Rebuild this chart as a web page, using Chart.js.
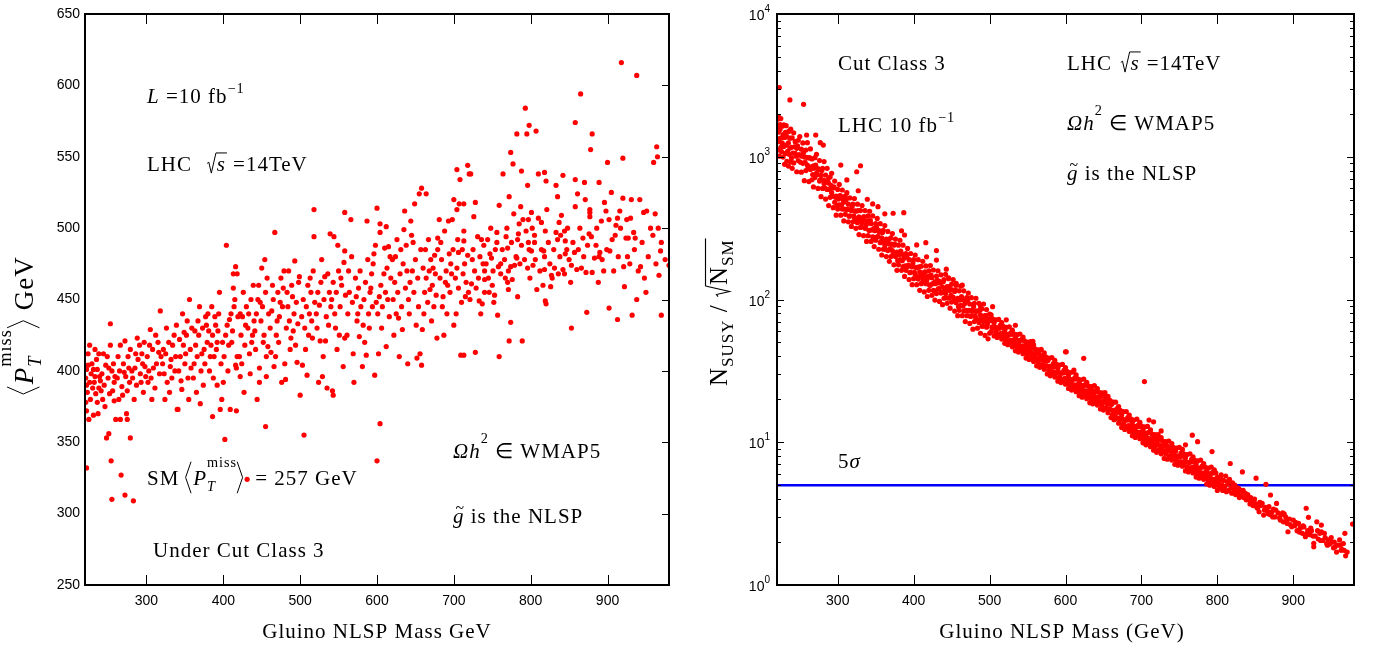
<!DOCTYPE html>
<html>
<head>
<meta charset="utf-8">
<script src="https://cdn.jsdelivr.net/npm/chart.js"></script>
<style>
  body { margin: 0; background: #fff; }
  #wrap { display: flex; width: 1374px; height: 645px; }
  canvas { display: block; }
</style>
</head>
<body>
<div id="wrap">
  <canvas id="metChart" width="687" height="645"></canvas>
  <canvas id="sigChart" width="687" height="645"></canvas>
</div>
<script>
// axes
const massRange = [220, 980];
const xTickValues = [300, 400, 500, 600, 700, 800, 900];
const leftYRange = [250, 650];
const leftYTicks = [250, 300, 350, 400, 450, 500, 550, 600, 650];
const rightYRange = [1, 10000];
const rightMajorTicks = [1, 10, 100, 1000, 10000];
const rightExponents = ['0', '1', '2', '3', '4'];
const fiveSigma = 5;

// left panel: [gluino mass, <PT miss>]
const leftPoints = [
  [222,332],[226,418],[233,415],[224,404],[222,401],[222,372],[225,366],[231,369],[237,370],[221,395],[228,398],[232,392],[236,401],[239,396],[223,385],[227,380],[230,388],[234,384],[238,388],[221,378],[226,392],[229,405],[235,408],[238,412],[224,412],[231,401],[236,378],[240,393],[222,390],[233,396],
  [248,353],[251,356],[254,337],[255,310],[253,433],[260,366],[242,398],[245,390],[247,404],[250,395],[252,384],[255,400],[258,392],[243,380],[246,375],[249,410],[253,418],[257,405],[259,396],[244,412],[251,402],[256,386],[241,386],[258,379],
  [267,327],[272,313],[279,353],[266,366],[274,370],[275,366],[262,395],[265,400],[268,389],[270,405],[273,396],[276,410],[278,392],[263,410],[266,418],[269,383],[271,399],[277,402],[279,415],[264,380],[272,421],[275,386],
  [283,309],[288,423],[282,395],[285,402],[287,390],[289,408],[292,398],[294,412],[296,385],[298,403],[291,418],[284,380],[286,412],[293,392],[297,420],[299,396],[281,400],[295,405],
  [305,429],[301,410],[303,400],[306,395],[308,415],[311,388],[313,405],[315,420],[317,398],[319,410],[302,392],[304,418],[309,402],[312,425],[316,413],[318,442],[307,380],
  [327,392],[321,405],[323,398],[325,412],[329,420],[331,403],[333,395],[336,425],[338,410],[322,415],[326,430],[330,385],[334,418],[337,400],[339,432],[340,373],[324,380],[332,408],
  [346,387],[355,380],[342,400],[344,410],[348,418],[350,405],[352,425],[354,395],[357,415],[359,430],[343,422],[347,440],[351,412],[353,435],[356,450],[358,402],[345,393],[349,427],[341,373],
  [370,377],[362,405],[364,418],[366,410],[368,425],[371,400],[373,430],[375,415],[377,438],[379,420],[361,395],[363,428],[367,435],[369,445],[372,412],[374,390],[376,405],[378,432],[365,385],[380,440],
  [396,373],[398,380],[382,400],[384,418],[386,425],[388,410],[390,432],[392,420],[394,440],[381,428],[383,410],[385,445],[387,395],[389,438],[391,415],[393,428],[395,455],[397,405],[399,420],[386,368],[392,390],
  [404,488],[416,473],[418,468],[413,468],[402,352],[409,373],[416,404],[418,410],[417,402],[422,396],[401,410],[403,425],[405,432],[407,418],[410,440],[412,428],[414,445],[406,400],[408,436],[411,420],[415,450],[419,438],[417,372],[413,458],[400,392],
  [427,385],[431,324],[421,410],[423,425],[425,438],[428,418],[430,445],[432,430],[434,412],[436,450],[438,425],[422,440],[424,405],[426,455],[429,432],[433,440],[435,398],[437,420],[439,460],[440,435],
  [455,361],[447,402],[447,392],[456,396],[456,410],[458,417],[441,428],[443,440],[445,450],[449,435],[451,445],[453,425],[455,455],[457,465],[459,440],[442,415],[446,460],[450,472],[452,420],[454,478],[448,448],[444,380],
  [466,403],[468,410],[462,413],[480,405],[467,497],[461,430],[463,442],[465,450],[469,425],[471,455],[473,438],[475,465],[477,445],[479,470],[464,460],[470,435],[472,420],[474,448],[476,392],[478,458],
  [481,394],[488,423],[494,418],[496,406],[482,430],[484,445],[486,435],[490,452],[492,440],[498,462],[483,455],[485,470],[487,415],[489,460],[491,428],[493,477],[495,448],[497,433],[499,466],[500,383],
  [503,404],[505,355],[509,397],[516,423],[502,438],[504,450],[506,430],[508,445],[510,460],[512,440],[514,455],[518,494],[518,513],[517,470],[511,425],[513,465],[519,448],[507,415],[515,435],
  [524,392],[526,421],[529,396],[533,421],[535,388],[539,496],[521,440],[523,455],[525,446],[527,462],[531,450],[534,438],[536,468],[538,455],[540,445],[522,430],[528,478],[530,410],[532,466],[537,432],
  [542,386],[543,383],[544,494],[549,488],[551,425],[556,403],[558,423],[558,511],[558,484],[541,450],[543,462],[545,440],[547,455],[550,470],[552,445],[554,460],[557,476],[559,453],[546,430],[548,415],[553,465],
  [570,392],[566,506],[577,424],[562,440],[564,455],[568,448],[572,465],[574,435],[576,458],[578,470],[561,425],[563,470],[567,480],[569,412],[573,452],[575,440],[579,445],
  [581,403],[586,411],[587,505],[582,432],[597,397],[598,488],[600,514],[583,450],[585,462],[589,440],[591,455],[593,468],[595,475],[599,448],[584,420],[588,478],[590,430],[592,458],[594,445],[596,482],
  [600,337],[604,363],[602,412],[612,417],[604,503],[612,501],[604,497],[610,486],[615,487],[601,440],[603,452],[605,460],[607,445],[609,468],[611,455],[613,472],[616,438],[618,465],[620,478],[606,430],[614,450],[617,480],
  [622,425],[629,410],[633,429],[626,492],[635,499],[636,512],[638,488],[621,450],[623,462],[625,440],[627,455],[630,468],[632,445],[634,475],[637,458],[639,470],[624,480],[628,437],[631,485],[640,405],
  [651,432],[652,409],[658,404],[656,412],[659,429],[645,495],[649,517],[655,524],[658,528],[641,450],[643,462],[646,470],[648,455],[650,478],[653,465],[654,445],[657,485],[660,472],[642,440],[647,490],[644,505],
  [664,524],[678,423],[679,485],[679,493],[675,481],[662,455],[664,465],[666,448],[668,470],[670,478],[672,460],[674,445],[676,468],[661,440],[663,485],[667,492],[669,457],[671,435],[673,472],[677,453],
  [681,506],[687,425],[688,498],[693,505],[698,506],[700,432],[700,520],[682,465],[684,478],[686,452],[690,470],[692,460],[694,482],[696,475],[683,490],[685,445],[689,462],[691,440],[695,455],[697,468],[699,485],
  [704,541],[718,544],[720,538],[708,534],[704,513],[707,517],[713,517],[713,498],[713,491],[705,492],[706,483],[718,481],[709,411],[713,411],[702,465],[704,472],[706,458],[710,448],[712,468],[714,475],[716,462],[719,455],[703,440],[711,485],[715,452],
  [722,538],[728,518],[726,508],[731,494],[736,492],[739,488],[723,461],[733,449],[737,447],[740,455],[740,464],[740,470],[728,413],[724,478],[727,470],[732,465],[734,480],[738,475],[721,450],[725,485],[729,458],[735,440],
  [744,492],[749,479],[756,497],[756,490],[759,516],[750,460],[753,453],[752,448],[757,439],[761,468],[759,410],[742,475],[745,465],[747,482],[751,470],[754,485],[758,473],[746,455],[748,500],
  [764,538],[772,522],[774,553],[777,545],[778,510],[768,494],[770,486],[774,473],[779,474],[776,464],[770,462],[771,457],[774,434],[772,421],[782,479],[761,475],[763,485],[766,478],[769,500],[771,470],[775,490],[767,465],
  [782,566],[793,584],[798,572],[795,566],[788,540],[796,530],[785,503],[790,506],[797,506],[783,492],[784,496],[788,488],[783,452],[789,421],[796,472],[798,485],[797,490],[781,480],[786,475],[792,478],[794,498],[799,465],[787,515],
  [807,568],[810,538],[818,539],[820,533],[801,511],[810,507],[814,504],[805,490],[805,495],[801,484],[814,485],[817,484],[803,474],[808,457],[819,449],[820,447],[818,471],[818,480],[819,498],[812,470],[816,460],[802,500],[806,478],
  [821,513],[833,530],[835,522],[842,537],[840,509],[837,504],[833,497],[835,492],[827,467],[828,465],[826,459],[825,475],[830,485],[838,480],[823,490],[831,472],[836,468],[839,495],
  [844,498],[845,491],[845,482],[842,471],[844,468],[853,474],[853,430],[858,574],[858,515],[858,534],[857,483],[850,478],[855,490],[848,500],[852,462],[847,485],
  [865,594],[861,524],[871,520],[877,513],[877,511],[877,508],[876,496],[879,494],[868,493],[864,500],[860,471],[866,472],[872,469],[880,469],[873,441],[880,566],[878,555],[870,532],[862,485],[869,480],[874,488],
  [889,532],[900,546],[885,488],[890,483],[883,479],[889,480],[893,478],[899,485],[902,506],[898,512],[896,518],[886,500],[892,505],[895,470],[888,462],
  [905,525],[903,484],[906,492],[902,444],[913,436],[911,502],[913,507],[917,500],[910,495],[918,616],[920,549],[920,521],[921,473],[922,459],[914,480],[908,470],[916,512],
  [925,506],[930,507],[924,493],[927,493],[936,493],[934,497],[929,475],[932,439],[938,450],[938,607],[926,480],[931,520],[935,485],[940,470],
  [947,511],[951,512],[948,465],[943,473],[959,495],[960,546],[945,490],[953,480],[956,500],[950,455],[942,520],
  [964,557],[970,490],[969,484],[963,475],[967,467],[970,439],[980,474],[962,510],[966,500],[975,478],[965,550]
];

// right panel: [gluino mass, N_SUSY / sqrt(N_SM)]
const rightPoints = [
  // 220-300
  [221,1830],[221,1115],[222,1485],[222,1275],[223,1650],[223,1010],[224,1345],[224,1550],[225,1165],[225,1850],[226,1085],[226,1355],[227,1245],[227,1635],[228,995],[228,1430],[229,1675],[229,1180],[230,885],[230,1365],
  [231,1480],[231,1055],[232,1205],[232,1650],[233,930],[233,1380],[234,1090],[234,1490],[235,1250],[235,860],[236,1510],[236,1040],[237,1150],[237,1350],[238,920],[238,1560],[239,1165],[239,980],[240,1355],[240,830],[241,1060],
  [222,1900],[224,1680],[223,3050],[237,2500],[255,2330],[259,1420],[271,1420],[277,1255],[281,1208],
  [242,1470],[242,905],[243,1175],[244,1055],[244,1275],[245,1010],[246,785],[246,1145],[247,1190],[248,1305],[248,940],[249,1030],[250,1030],[250,1385],
  [251,915],[252,780],[252,1130],[253,1010],[254,1250],[254,900],[255,1065],[256,995],[256,680],[257,915],[258,1115],[258,800],[259,990],[260,875],[260,1255],
  [261,845],[262,670],[262,980],[263,985],[264,1135],[264,815],[265,850],[266,690],[266,965],[267,750],[268,865],[268,615],[269,830],[270,985],[270,715],
  [271,875],[272,765],[272,1040],[273,750],[274,600],[274,825],[275,810],[276,940],[276,675],[277,690],[278,740],[278,525],[279,800],[280,830],[280,600],
  [281,685],[282,650],[282,925],[283,605],[284,505],[284,745],[285,665],[286,830],[286,590],[287,695],[288,655],[288,455],[289,590],[290,720],[290,520],
  [291,630],[292,560],[292,765],[293,530],[294,440],[294,605],[295,615],[296,675],[296,480],[297,520],[298,530],[298,390],[299,457],[300,590],[300,430],
  // 300-400
  [301,505],[302,460],[302,640],[303,535],[304,390],[304,530],[305,460],[306,585],[306,430],[307,500],[308,480],[308,355],[309,430],[310,530],[310,395],
  [311,500],[312,425],[312,560],[313,430],[314,350],[314,465],[315,383],[316,515],[316,385],[317,425],[318,420],[318,325],[319,448],[320,465],[320,350],
  [321,385],[322,375],[322,510],[323,418],[324,315],[324,415],[325,360],[326,465],[326,345],[327,420],[328,380],[328,285],[329,363],[330,420],[330,320],
  [331,322],[332,345],[332,455],[333,360],[334,280],[334,380],[335,380],[336,420],[336,315],[337,328],[338,340],[338,255],[339,355],[340,385],[340,280],
  [341,305],[342,305],[342,415],[343,357],[344,255],[344,340],[345,307],[346,385],[346,275],[347,273],[348,315],[348,235],[349,303],[350,340],[350,260],
  [351,320],[352,275],[352,370],[353,276],[354,225],[354,305],[355,296],[356,340],[356,250],[357,253],[358,270],[358,205],[359,295],[360,305],[360,225],
  [361,254],[362,240],[362,330],[363,225],[364,200],[364,265],[365,250],[366,300],[366,220],[367,264],[368,245],[368,185],[369,226],[370,270],[370,200],
  [371,244],[372,220],[372,290],[373,209],[374,175],[374,240],[375,244],[376,265],[376,200],[377,210],[378,215],[378,160],[379,187],[380,240],[380,175],
  [381,207],[382,190],[382,260],[383,218],[384,160],[384,210],[385,187],[386,240],[386,170],[387,202],[388,195],[388,145],[389,172],[390,210],[390,160],
  [391,201],[392,170],[392,228],[393,174],[394,138],[394,190],[395,154],[396,210],[396,155],[397,171],[398,169],[398,127],[399,180],[400,190],[400,140],
  [304,875],[312,688],[325,785],[327,578],[330,865],[339,504],[346,467],[353,447],[362,398],[373,402],[384,303],[387,406],[388,283],
  // 400-500
  [401,155],[402,150],[402,205],[403,168],[404,127],[404,167],[405,144],[406,190],[406,139],[407,169],[408,156],[408,116],[409,146],[410,171],[410,129],
  [411,131],[412,140],[412,185],[413,146],[414,113],[414,155],[415,156],[416,172],[416,129],[417,134],[418,140],[418,105],[419,146],[420,159],[420,116],
  [421,126],[422,126],[422,173],[423,148],[424,107],[424,142],[425,129],[426,161],[426,116],[427,115],[428,133],[428,99],[429,129],[430,146],[430,110],
  [431,137],[432,118],[432,159],[433,119],[434,97],[434,134],[435,130],[436,149],[436,111],[437,112],[438,122],[438,92],[439,133],[440,138],[440,102],
  [441,115],[442,110],[442,150],[443,103],[444,94],[444,123],[445,116],[446,140],[446,102],[447,123],[448,116],[448,87],[449,107],[450,128],[450,96],
  [451,117],[452,104],[452,138],[453,99],[454,83],[454,114],[455,117],[456,126],[456,95],[457,100],[458,102],[458,77],[459,89],[460,115],[460,84],
  [461,99],[462,91],[462,124],[463,105],[464,77],[464,102],[465,90],[466,115],[466,83],[467,98],[468,94],[468,70],[469,84],[470,103],[470,77],
  [471,98],[472,83],[472,111],[473,84],[474,68],[474,93],[475,76],[476,103],[476,77],[477,84],[478,83],[478,62],[479,89],[480,94],[480,70],
  [481,77],[482,74],[482,102],[483,83],[484,63],[484,83],[485,72],[486,94],[486,69],[487,84],[488,78],[488,58],[489,73],[490,86],[490,65],
  [491,65],[492,70],[492,93],[493,73],[494,56],[494,77],[495,77],[496,85],[496,64],[497,67],[498,70],[498,53],[499,73],[500,79],[500,58],
  [404,241],[416,250],[417,199],[430,220],[430,189],[443,163],[446,142],[456,130],[464,126],[488,90],
  // 500-600
  [501,71],[502,78],[502,59.7],[503,64],[504,63.3],[504,73.3],[505,71],[506,55.6],[506,68.7],[507,64],[508,71.9],[508,59.1],[509,58.5],[510,63],[510,54.2],
  [511,63],[512,72.5],[512,55.8],[513,63],[514,56.7],[514,65.9],[515,58],[516,69],[516,52.8],[517,64],[518,56],[518,64.9],[519,58],[520,49.3],[520,60.9],
  [521,53],[522,63.8],[522,52.4],[523,57],[524,56],[524,48.2],[525,57],[526,64.4],[526,49.5],[527,52],[528,50.2],[528,58.3],[529,57],[530,61],[530,46.6],
  [531,52],[532,49.6],[532,57.4],[533,47.7],[534,43.7],[534,54],[535,51.5],[536,56.7],[536,46.6],[537,51.7],[538,49.8],[538,42.8],[539,47.4],[540,57.3],[540,44.1],
  [541,52],[542,44.8],[542,52.1],[543,47.3],[544,54.5],[544,41.7],[545,43.2],[546,44.3],[546,51.3],[547,46.7],[548,38.9],[548,48.1],[549,46.8],[550,50.4],[550,41.4],
  [551,42.8],[552,44.2],[552,38],[553,46.9],[554,50.8],[554,39.1],[555,42.6],[556,39.6],[556,46],[557,38.8],[558,48.1],[558,36.8],[559,41.8],[560,39],[560,45.1],
  [561,41.8],[562,34.3],[562,42.3],[563,38.4],[564,44.4],[564,36.4],[565,41.9],[566,38.9],[566,33.5],[567,38.1],[568,44.7],[568,34.4],[569,34.8],[570,34.9],[570,40.5],
  [571,37.5],[572,42.3],[572,32.4],[573,37.5],[574,34.3],[574,39.7],[575,34.3],[576,30.1],[576,37.2],[577,37.5],[578,38.9],[578,31.9],[579,34],[580,34],[580,29.2],
  [581,31],[582,39.2],[582,30.2],[583,33.5],[584,30.7],[584,35.6],[585,33.7],[586,37.4],[586,28.6],[587,30.9],[588,30.4],[588,35.2],[589,33.9],[590,26.8],[590,33.1],
  [591,30.9],[592,34.7],[592,28.5],[593,28.2],[594,30.5],[594,26.2],[595,30.5],[596,35.1],[596,27],[597,30.6],[598,27.4],[598,31.9],[599,28],[600,33.4],[600,25.5],
  [504,89],[522,72],[534,66],[557,51],[600,43],[601,43],
  // 600-700
  [601,30.7],[602,27.1],[602,31.4],[603,27.9],[604,23.8],[604,29.4],[605,25.5],[606,30.8],[606,25.3],[607,27.5],[608,27],[608,23.2],[609,27.5],[610,31],[610,23.9],
  [611,25.2],[612,24.3],[612,28.2],[613,27.7],[614,29.6],[614,22.6],[615,25.2],[616,24],[616,27.8],[617,23.1],[618,21.2],[618,26.1],[619,24.9],[620,27.4],[620,22.5],
  [621,25],[622,24.1],[622,20.7],[623,22.9],[624,27.7],[624,21.3],[625,25.1],[626,21.7],[626,25.2],[627,22.9],[628,26.3],[628,20.2],[629,20.9],[630,21.4],[630,24.8],
  [631,22.6],[632,18.9],[632,23.3],[633,22.7],[634,24.5],[634,20.1],[635,20.8],[636,21.6],[636,18.6],[637,22.9],[638,24.9],[638,19.2],[639,20.9],[640,19.5],[640,22.7],
  [641,19.1],[642,23.8],[642,18.2],[643,20.7],[644,19.4],[644,22.4],[645,20.8],[646,17.1],[646,21.1],[647,19.1],[648,22.2],[648,18.2],[649,21],[650,19.5],[650,16.8],
  [651,19.1],[652,22.3],[652,17.2],[653,17.4],[654,17.4],[654,20.2],[655,18.7],[656,21],[656,16.1],[657,18.6],[658,17],[658,19.7],[659,17],[660,14.9],[660,18.4],
  [661,18.5],[662,19.2],[662,15.7],[663,16.7],[664,16.7],[664,14.4],[665,15.2],[666,19.1],[666,14.7],[667,16.3],[668,14.8],[668,17.2],[669,16.2],[670,17.8],[670,13.6],
  [671,14.7],[672,14.4],[672,16.7],[673,16.1],[674,12.7],[674,15.6],[675,14.6],[676,16.4],[676,13.4],[677,13.3],[678,14.3],[678,12.3],[679,14.3],[680,16.4],[680,12.6],
  [681,14.3],[682,12.8],[682,14.9],[683,13.1],[684,15.5],[684,11.9],[685,14.3],[686,12.6],[686,14.6],[687,13],[688,11.1],[688,13.7],[689,11.9],[690,14.3],[690,11.8],
  [691,12.8],[692,12.6],[692,10.8],[693,12.9],[694,14.5],[694,11.2],[695,11.8],[696,11.3],[696,13.2],[697,12.9],[698,13.8],[698,10.6],[699,11.8],[700,11.2],[700,13],
  [611,32],[624,38.7],[651,21.8],
  // 700-800
  [701,10.8],[702,9.9],[702,12.2],[703,11.6],[704,12.8],[704,10.5],[705,11.6],[706,11.2],[706,9.6],[707,10.7],[708,12.9],[708,9.9],[709,11.7],[710,10],[710,11.7],
  [711,10.6],[712,12.2],[712,9.3],[713,9.7],[714,9.9],[714,11.4],[715,10.5],[716,8.8],[716,10.8],[717,10.5],[718,11.3],[718,9.3],[719,9.6],[720,9.9],[720,8.5],
  [721,10.5],[722,11.3],[722,8.7],[723,9.6],[724,8.9],[724,10.4],[725,8.7],[726,10.8],[726,8.3],[727,9.4],[728,8.8],[728,10.2],[729,9.5],[730,7.7],[730,9.6],
  [731,8.7],[732,10.1],[732,8.3],[733,9.5],[734,8.8],[734,7.6],[735,8.7],[736,10.2],[736,7.8],[737,8],[738,8],[738,9.3],[739,8.6],[740,9.8],[740,7.5],
  [741,8.7],[742,8],[742,9.2],[743,8],[744,7],[744,8.6],[745,8.7],[746,9.1],[746,7.5],[747,8],[748,8],[748,6.9],[749,7.3],[750,9.2],[750,7.1],
  [751,7.9],[752,7.3],[752,8.4],[753,8],[754,8.9],[754,6.8],[755,7.3],[756,7.1],[756,8.3],[757,8],[758,6.3],[758,7.8],[759,7.3],[760,8.2],[760,6.7],
  [761,6.7],[762,7.2],[762,6.2],[763,7.2],[764,8.3],[764,6.4],[765,7.3],[766,6.5],[766,7.6],[767,6.7],[768,7.9],[768,6.1],[769,7.3],[770,6.5],[770,7.5],
  [771,6.7],[772,5.7],[772,7],[773,6.1],[774,7.4],[774,6.1],[775,6.6],[776,6.5],[776,5.6],[777,6.6],[778,7.5],[778,5.8],[779,6.1],[780,5.9],[780,6.8],
  [781,6.7],[782,7.1],[782,5.5],[783,6.1],[784,5.8],[784,6.7],[785,5.6],[786,5.1],[786,6.3],[787,6],[788,6.6],[788,5.4],[789,6],[790,5.85],[790,5],
  [791,5.6],[792,6.7],[792,5.2],[793,6.1],[794,5.3],[794,6.1],[795,5.5],[796,6.4],[796,4.9],[797,5.1],[798,5.2],[798,6.1],[799,5.5],[800,4.6],[800,5.7],
  [704,26.6],[710,14.3],[716,13.9],[726,12],[758,9.6],[767,11.2],[774,10.1],[793,8.6],
  // 800-980
  [802,5.3],[803,4.8],[804,5.6],[806,5],[807,4.6],[808,5.4],[810,4.9],[811,5.8],[812,4.5],[814,5.1],[815,4.6],[816,5.5],[817,7.1],[818,4.8],[819,4.4],[820,5.2],[822,4.6],[823,5],[824,4.3],[826,4.8],[827,4.4],[828,4.76],[830,4.63],[831,4.2],[833,6.2],[833,4.5],[835,4.1],[837,4.39],[838,3.95],[840,4.3],
  [842,3.94],[844,4.1],[846,3.83],[847,3.6],[849,4],[851,5.6],[851,3.7],[853,3.45],[855,3.26],[856,3.8],[859,3.73],[861,3.09],[863,3.5],[864,5.07],[866,3.3],[868,3.54],[870,4.27],[870,3.1],[872,3.26],[874,3.4],[876,3],[878,3.73],[880,3.2],
  [882,2.95],[884,3.1],[887,2.77],[888,3.15],[890,3],[892,2.7],[893,2.36],[895,2.9],[898,2.56],[900,2.85],[902,2.6],[905,2.4],[907,2.7],[909,2.5],[912,2.3],[914,2.55],[916,2.18],[917,3.45],[919,2.4],[920,2.98],
  [922,2.25],[924,2.4],[927,1.96],[927,1.85],[929,2.2],[931,2.77],[933,2.1],[935,2.3],[937,2.63],[937,2.36],[939,2.05],[942,2.15],[944,1.95],[946,2.07],[948,1.94],[951,2],[953,1.82],[955,1.85],[958,1.9],[961,2.07],[963,1.75],[964,1.78],[966,1.95],[968,2.3],[969,1.6],[971,1.7],[978,2.67],
  [801,5],[805,5.9],[809,4.7],[813,5.3],[821,4.9],[825,4.5],[829,4.1],[834,4.6],[839,4.2],[843,3.7],[848,3.9],[852,3.5],[857,3.6],[862,3.35],[867,3.15],[873,3],[877,3.35],[883,2.85],[886,3.2],[891,2.8],[896,2.65],[903,2.75],[908,2.35],[913,2.6],[918,2.3],[923,2.5],[926,2.2],[932,2.4],[936,2.05],[941,2.3],[945,1.9],[950,2.15],[954,2],[957,1.7],[962,1.9],[967,1.75]
];

const SERIF = '"Liberation Serif", "Times New Roman", serif';
const SANS = '"Liberation Sans", Arial, sans-serif';

// draws a run of text pieces (italic, sub/sup, radicals, big angle brackets)
function rich(ctx, x, y, segs, size, rot) {
  ctx.save();
  ctx.translate(x, y);
  if (rot) ctx.rotate(rot);
  ctx.fillStyle = '#000';
  ctx.strokeStyle = '#000';
  ctx.textAlign = 'left';
  ctx.textBaseline = 'alphabetic';
  if ('letterSpacing' in ctx) ctx.letterSpacing = '1px';
  let cx = 0, radStart = 0;
  for (const s of segs) {
    if (s.gap) { cx += s.gap * size; continue; }
    if (s.rad === 'open') {
      ctx.lineWidth = Math.max(1, size / 22);
      ctx.beginPath();
      ctx.moveTo(cx + 0.02 * size, -0.36 * size);
      ctx.lineTo(cx + 0.1 * size, -0.42 * size);
      ctx.lineTo(cx + 0.22 * size, 0.1 * size);
      ctx.lineTo(cx + 0.44 * size, -0.86 * size);
      ctx.stroke();
      radStart = cx + 0.44 * size;
      cx += 0.48 * size;
      continue;
    }
    if (s.rad === 'close') {
      ctx.beginPath();
      ctx.moveTo(radStart, -0.86 * size);
      ctx.lineTo(cx + 1, -0.86 * size);
      ctx.stroke();
      cx += 0.04 * size;
      continue;
    }
    if (s.br) {
      const h = s.br.h * size, w = 0.26 * size, top = -0.5 * size - h / 2 + 0.14 * size;
      ctx.lineWidth = 1;
      ctx.beginPath();
      if (s.br.open) {
        ctx.moveTo(cx + w, top); ctx.lineTo(cx, top + h / 2); ctx.lineTo(cx + w, top + h);
      } else {
        ctx.moveTo(cx, top); ctx.lineTo(cx + w, top + h / 2); ctx.lineTo(cx, top + h);
      }
      ctx.stroke();
      cx += w + 0.1 * size;
      continue;
    }
    const small = s.sup || s.sub;
    const fs = small ? size * 0.68 : size;
    ctx.font = (s.it ? 'italic ' : '') + fs + 'px ' + SERIF;
    let dy = 0;
    if (s.sup) dy = (s.dy !== undefined ? s.dy : -0.45) * size;
    if (s.sub) dy = (s.dy !== undefined ? s.dy : 0.28) * size;
    const dx = (s.dx || 0) * size;
    ctx.fillText(s.t, cx + dx, dy);
    const w = ctx.measureText(s.t).width;
    if (s.tilde) {
      ctx.font = (0.75 * size) + 'px ' + SERIF;
      ctx.fillText('~', cx + w * 0.22, -0.5 * size);
    }
    if (!s.stack) cx += dx + w;
  }
  ctx.restore();
}

function textCentered(ctx, cx, y, str, size) {
  ctx.save();
  ctx.font = size + 'px ' + SERIF;
  if ('letterSpacing' in ctx) ctx.letterSpacing = '1px';
  ctx.fillStyle = '#000';
  ctx.textAlign = 'center';
  ctx.textBaseline = 'alphabetic';
  ctx.fillText(str, cx, y);
  ctx.restore();
}

// frame with inward ticks and all the text
function framePlugin(cfg) {
  return {
    id: 'frame_' + cfg.name,
    afterDraw(chart) {
      const ctx = chart.ctx, a = chart.chartArea, xs = chart.scales.x, ys = chart.scales.y;
      ctx.save();
      ctx.strokeStyle = '#000';
      ctx.lineWidth = 1;
      ctx.beginPath();
      xTickValues.forEach(v => {
        const px = Math.round(xs.getPixelForValue(v)) + 0.5;
        ctx.moveTo(px, a.bottom); ctx.lineTo(px, a.bottom - 10);
        ctx.moveTo(px, a.top); ctx.lineTo(px, a.top + 10);
      });
      ys.ticks.forEach(t => {
        const py = Math.round(ys.getPixelForValue(t.value)) + 0.5;
        const len = t.major ? 7 : 4;
        ctx.moveTo(a.right, py); ctx.lineTo(a.right - len, py);
        if (cfg.leftTicks) { ctx.moveTo(a.left, py); ctx.lineTo(a.left + len, py); }
      });
      ctx.stroke();
      ctx.lineWidth = 2;
      ctx.strokeRect(a.left, a.top, a.right - a.left, a.bottom - a.top);

      // power-of-ten labels for the log axis: "10" with a raised exponent
      if (cfg.powerLabels) {
        ctx.fillStyle = '#000';
        ctx.textAlign = 'right';
        ctx.textBaseline = 'alphabetic';
        rightMajorTicks.forEach((v, i) => {
          const py = ys.getPixelForValue(v);
          ctx.font = '10px ' + SANS;
          const ew = ctx.measureText(rightExponents[i]).width;
          const right = a.left - 7;
          ctx.fillText(rightExponents[i], right, py - 2);
          ctx.font = '14px ' + SANS;
          ctx.fillText('10', right - ew, py + 6);
        });
      }
      ctx.restore();
      cfg.notes.forEach(n => rich(ctx, n.x, n.y, n.segs, n.size || 21, n.rot));
      textCentered(ctx, cfg.xTitle.x, cfg.xTitle.y, cfg.xTitle.text, 21);
    }
  };
}

function makeChart(id, cfg) {
  const datasets = [{
    data: cfg.points.map(p => ({ x: p[0], y: p[1] })),
    backgroundColor: '#ff0000',
    borderWidth: 0,
    pointRadius: 2.6,
    pointHoverRadius: 2.6,
    order: 1
  }];
  if (cfg.extra) datasets.push(cfg.extra);
  return new Chart(document.getElementById(id), {
    type: 'scatter',
    data: { datasets: datasets },
    options: {
      responsive: false,
      animation: false,
      devicePixelRatio: 1,
      layout: { padding: { top: 14, right: cfg.padRight, left: 0, bottom: 0 } },
      plugins: { legend: { display: false }, tooltip: { enabled: false } },
      scales: {
        x: {
          type: 'linear',
          min: massRange[0], max: massRange[1],
          grid: { display: false, drawTicks: false }, border: { display: false },
          afterBuildTicks: s => { s.ticks = xTickValues.map(v => ({ value: v })); },
          afterFit: s => { s.height = 60; },
          ticks: { color: '#000', font: { family: SANS, size: 14 }, padding: 8, maxRotation: 0 }
        },
        y: cfg.yScale
      }
    },
    plugins: [framePlugin(cfg)]
  });
}

makeChart('metChart', {
  name: 'met',
  points: leftPoints,
  padRight: 18,
  leftTicks: false,
  yScale: {
    type: 'linear',
    min: leftYRange[0], max: leftYRange[1],
    grid: { display: false, drawTicks: false }, border: { display: false },
    afterBuildTicks: s => { s.ticks = leftYTicks.map(v => ({ value: v, major: true })); },
    afterFit: s => { s.width = 85; },
    ticks: { color: '#000', font: { family: SANS, size: 14 }, padding: 5 }
  },
  xTitle: { x: 377, y: 638, text: 'Gluino NLSP Mass GeV' },
  notes: [
    { x: 147, y: 103, segs: [{ t: 'L', it: 1 }, { t: ' =10 fb' }, { t: '−1', sup: 1, dy: -0.5 }] },
    { x: 147, y: 171, segs: [{ t: 'LHC' }, { gap: 0.7 }, { rad: 'open' }, { t: 's', it: 1 }, { rad: 'close' }, { t: ' =14TeV' }] },
    { x: 147, y: 485, segs: [{ t: 'SM ' }, { br: { open: 1, h: 1.5 } }, { t: 'P', it: 1 }, { t: 'T', it: 1, sub: 1, stack: 1, dy: 0.3 }, { t: 'miss', sup: 1, dy: -0.85 }, { br: { open: 0, h: 1.5 } }, { gap: 0.5 }, { t: '= 257 GeV' }] },
    { x: 153, y: 557, segs: [{ t: 'Under Cut Class 3' }] },
    { x: 453, y: 458, segs: [{ t: 'Ω', it: 1 }, { t: 'h', it: 1 }, { t: '2', sup: 1, dy: -0.72 }, { t: ' ∈ WMAP5' }] },
    { x: 453, y: 523, segs: [{ t: 'g', it: 1, tilde: 1 }, { t: ' is the NLSP' }] },
    { x: 33, y: 394, size: 27, rot: -Math.PI / 2, segs: [{ br: { open: 1, h: 1.2 } }, { t: 'P', it: 1 }, { t: 'T', it: 1, sub: 1, stack: 1, dy: 0.3 }, { t: 'miss', sup: 1, dy: -0.8 }, { gap: 0.05 }, { br: { open: 0, h: 1.2 } }, { t: ' GeV' }] }
  ]
});

makeChart('sigChart', {
  name: 'sig',
  points: rightPoints,
  padRight: 20,
  leftTicks: true,
  powerLabels: true,
  extra: {
    data: [{ x: massRange[0], y: fiveSigma }, { x: massRange[1], y: fiveSigma }],
    showLine: true,
    borderColor: '#0000ff',
    borderWidth: 2.5,
    pointRadius: 0,
    order: 2
  },
  yScale: {
    type: 'logarithmic',
    min: rightYRange[0], max: rightYRange[1],
    grid: { display: false, drawTicks: false }, border: { display: false },
    afterBuildTicks: s => {
      const t = [];
      rightMajorTicks.forEach((d, i) => {
        t.push({ value: d, major: true });
        if (i < rightMajorTicks.length - 1) for (let m = 2; m <= 9; m++) t.push({ value: m * d, major: false });
      });
      s.ticks = t;
    },
    afterFit: s => { s.width = 90; },
    ticks: { autoSkip: false, display: true, color: 'rgba(0,0,0,0)', callback: () => '' }
  },
  xTitle: { x: 375, y: 638, text: 'Gluino NLSP Mass (GeV)' },
  notes: [
    { x: 151, y: 70, segs: [{ t: 'Cut Class 3' }] },
    { x: 151, y: 132, segs: [{ t: 'LHC 10 fb' }, { t: '−1', sup: 1, dy: -0.5 }] },
    { x: 380, y: 70, segs: [{ t: 'LHC' }, { gap: 0.4 }, { rad: 'open' }, { t: 's', it: 1 }, { rad: 'close' }, { t: ' =14TeV' }] },
    { x: 380, y: 130, segs: [{ t: 'Ω', it: 1 }, { t: 'h', it: 1 }, { t: '2', sup: 1, dy: -0.72 }, { t: ' ∈ WMAP5' }] },
    { x: 380, y: 180, segs: [{ t: 'g', it: 1, tilde: 1 }, { t: ' is the NLSP' }] },
    { x: 151, y: 468, segs: [{ t: '5' }, { t: 'σ', it: 1 }] },
    { x: 40, y: 386, size: 25, rot: -Math.PI / 2, segs: [{ t: 'N' }, { t: 'SUSY', sub: 1, dy: 0.25 }, { t: ' / ' }, { rad: 'open' }, { t: 'N' }, { t: 'SM', sub: 1, dy: 0.25 }, { rad: 'close' }] }
  ]
});
</script>
</body>
</html>
